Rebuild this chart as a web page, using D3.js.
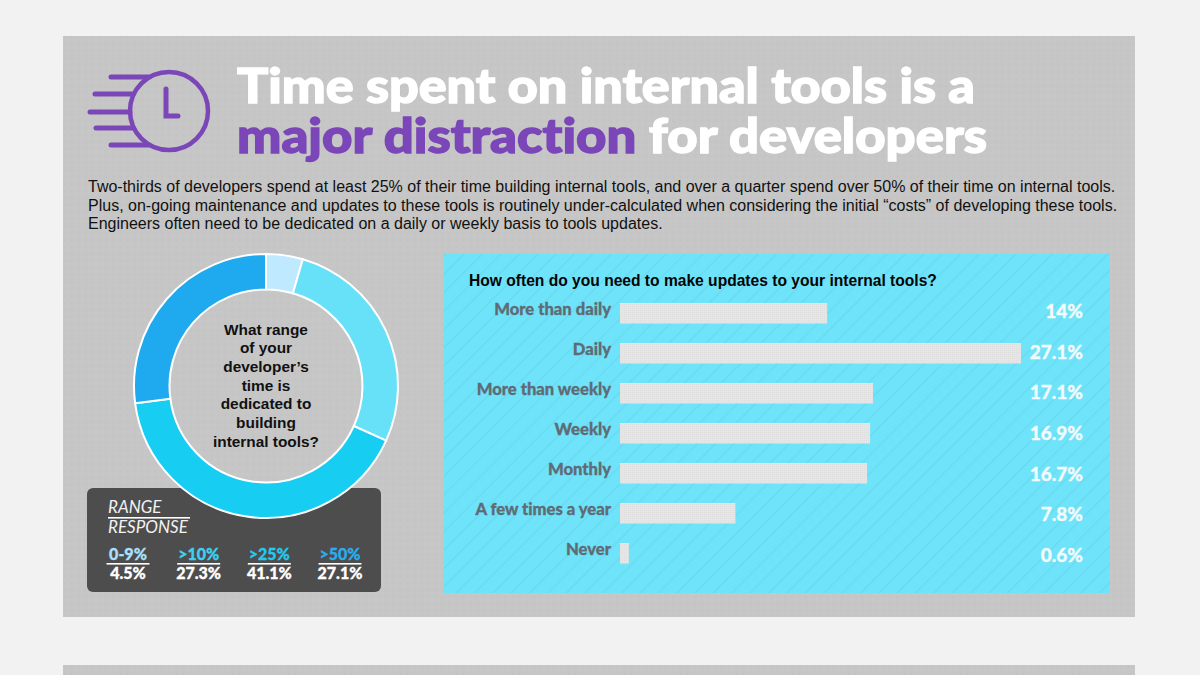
<!DOCTYPE html>
<html><head><meta charset="utf-8">
<script src="https://cdn.jsdelivr.net/npm/d3@7"></script>
<style>html,body{margin:0;padding:0;background:#f2f2f2;overflow:hidden}svg{display:block}text{font-variant-ligatures:none}</style>
</head><body><svg id="c" width="1200" height="675"></svg>
<script>
const titleLine1 = "Time spent on internal tools is a";
const titleLine2Accent = "major distraction";
const titleLine2Rest = " for developers";
const introLines = [
 "Two-thirds of developers spend at least 25% of their time building internal tools, and over a quarter spend over 50% of their time on internal tools.",
 "Plus, on-going maintenance and updates to these tools is routinely under-calculated when considering the initial “costs” of developing these tools.",
 "Engineers often need to be dedicated on a daily or weekly basis to tools updates."];
const donutQuestion = ["What range","of your","developer’s","time is","dedicated to","building","internal tools?"];
const rangeLabels = ["0-9%",">10%",">25%",">50%"];
const rangeValues = [4.5,27.3,41.1,27.1];
const rangeColors = ["#bfe9fe","#66e1f7","#17cdf2","#1fa9ef"];
const legendTextColors = ["#a9e0fb","#3fd0f2","#25c9ee","#28aeee"];
const barQuestion = "How often do you need to make updates to your internal tools?";
const barCategories = ["More than daily","Daily","More than weekly","Weekly","Monthly","A few times a year","Never"];
const barValues = [14,27.1,17.1,16.9,16.7,7.8,0.6];

const svg = d3.select("#c");
const defs = svg.append("defs");
const head = "Lato, sans-serif", body = "'Liberation Sans', Arial, sans-serif";
const purple = "#7b46b8";

const pg = defs.append("pattern").attr("id","mottle").attr("width",7).attr("height",7).attr("patternUnits","userSpaceOnUse");
pg.append("rect").attr("width",7).attr("height",7).attr("fill","#c6c6c6");
pg.append("circle").attr("cx",1.5).attr("cy",2).attr("r",1).attr("fill","#c2c2c2");
pg.append("circle").attr("cx",5).attr("cy",5).attr("r",1).attr("fill","#c9c9c9");
const ps = defs.append("pattern").attr("id","stripe").attr("width",13).attr("height",13).attr("patternUnits","userSpaceOnUse").attr("patternTransform","rotate(45)");
ps.append("rect").attr("width",13).attr("height",13).attr("fill","#6fe3f9");
ps.append("rect").attr("width",1.4).attr("height",13).attr("fill","#68dbf1");
const pb = defs.append("pattern").attr("id","grid").attr("width",2).attr("height",2).attr("patternUnits","userSpaceOnUse");
pb.append("rect").attr("width",2).attr("height",2).attr("fill","#e6e6e6");
pb.append("rect").attr("width",1).attr("height",1).attr("fill","#dedede");

svg.append("rect").attr("x",63).attr("y",36).attr("width",1072).attr("height",581).attr("fill","url(#mottle)");
svg.append("rect").attr("x",63).attr("y",665).attr("width",1072).attr("height",10).attr("fill","url(#mottle)");

// clock icon
const icon = svg.append("g").attr("transform","translate(169,111)").attr("fill","none").attr("stroke",purple).attr("stroke-linecap","round");
icon.append("circle").attr("r",39).attr("stroke-width",4.5);
icon.append("path").attr("d","M-3,-22V5H9").attr("stroke-width",5);
const iconRows = [[-34,-58,-20],[-17,-74,-36],[1,-79,-39],[17,-73,-36],[34,-58,-20]];
icon.selectAll("line").data(iconRows).join("line")
  .attr("x1",d=>d[1]).attr("x2",d=>d[2]).attr("y1",d=>d[0]).attr("y2",d=>d[0]).attr("stroke-width",5);

// title
svg.append("text").attr("x",237).attr("y",103).attr("font-family",head).attr("font-weight",900).attr("font-size",48)
  .attr("fill","#fff").attr("stroke","#fff").attr("stroke-width",1.4).attr("textLength",738).attr("lengthAdjust","spacingAndGlyphs").text(titleLine1);
const t2 = svg.append("text").attr("x",237).attr("y",153).attr("font-family",head).attr("font-weight",900).attr("font-size",48)
  .attr("stroke-width",1.4).attr("textLength",750).attr("lengthAdjust","spacingAndGlyphs").style("white-space","pre");
t2.append("tspan").attr("fill",purple).attr("stroke",purple).text(titleLine2Accent);
t2.append("tspan").attr("fill","#fff").attr("stroke","#fff").text(titleLine2Rest);

// intro
svg.append("g").selectAll("text").data(introLines).join("text")
  .attr("x",88).attr("y",(d,i)=>192+i*18.5).attr("font-family",body).attr("font-size",16).attr("fill","#111").text(d=>d);

// legend box (the donut sits over its top edge)
const leg = svg.append("g");
leg.append("rect").attr("x",87).attr("y",488).attr("width",294).attr("height",104).attr("rx",6).attr("fill","#4d4d4d");
leg.append("text").attr("x",108).attr("y",513).attr("font-family",head).attr("font-style","italic").attr("font-size",17).attr("fill","#f2f2f2").text("RANGE");
leg.append("rect").attr("x",108).attr("y",517).attr("width",82).attr("height",1.6).attr("fill","#fff");
leg.append("text").attr("x",108).attr("y",533).attr("font-family",head).attr("font-style","italic").attr("font-size",17).attr("fill","#f2f2f2").text("RESPONSE");
const legX = d3.scalePoint().domain(rangeLabels).range([128,340]);
rangeLabels.forEach((l,i)=>{
  const px = legX(l);
  leg.append("text").attr("x",px).attr("y",559.5).attr("text-anchor","middle").attr("font-family",head).attr("font-weight",900).attr("font-size",16).attr("fill",legendTextColors[i]).attr("stroke",legendTextColors[i]).attr("stroke-width",0.3).text(l);
  leg.append("rect").attr("x",px-21.5).attr("y",563).attr("width",43).attr("height",1.6).attr("fill","#fff");
  leg.append("text").attr("x",px).attr("y",578.5).attr("text-anchor","middle").attr("font-family",head).attr("font-weight",900).attr("font-size",16).attr("fill","#fff").attr("stroke","#fff").attr("stroke-width",0.3).text(rangeValues[i]+"%");
});

// donut
const donut = svg.append("g").attr("transform","translate(266,386)");
const pie = d3.pie().sort(null)(rangeValues);
const arc = d3.arc().innerRadius(96.5).outerRadius(132);
donut.selectAll("path").data(pie).join("path").attr("d",arc)
  .attr("fill",(d,i)=>rangeColors[i]).attr("stroke","#fff").attr("stroke-width",2);
donut.selectAll("text").data(donutQuestion).join("text").attr("text-anchor","middle")
  .attr("y",(d,i)=>-51.5+i*18.7).attr("font-family",body).attr("font-weight",700).attr("font-size",15.4).attr("fill","#111").text(d=>d);

// bar panel
svg.append("rect").attr("x",444).attr("y",254).attr("width",666).attr("height",339).attr("fill","url(#stripe)");
svg.append("text").attr("x",469).attr("y",286).attr("font-family",body).attr("font-weight",700).attr("font-size",15.6).attr("fill","#050505").text(barQuestion);
const x = d3.scaleLinear().domain([0,27.1]).range([620,1021]);
const y = d3.scaleBand().domain(barCategories).range([293.25,573.25]).paddingInner(0.4875).paddingOuter(0.24375);
const yValue = d3.scalePoint().domain(barCategories).range([318,562]);
svg.append("g").selectAll("rect").data(barValues).join("rect")
  .attr("x",x(0)).attr("y",(d,i)=>y(barCategories[i])).attr("width",d=>x(d)-x(0)).attr("height",y.bandwidth()).attr("fill","url(#grid)");
svg.append("g").selectAll("text").data(barCategories).join("text")
  .attr("x",611).attr("y",d=>y(d)+12).attr("text-anchor","end").attr("font-family",head).attr("font-weight",900).attr("font-size",16.6).attr("fill","#5f6b75").attr("stroke","#5f6b75").attr("stroke-width",0.3).text(d=>d);
svg.append("g").selectAll("text").data(barValues).join("text")
  .attr("x",1083).attr("y",(d,i)=>yValue(barCategories[i])).attr("text-anchor","end").attr("font-family",head).attr("font-weight",900).attr("font-size",19).attr("fill","#f2fbfd").attr("stroke","#f2fbfd").attr("stroke-width",0.3).text(d=>d+"%");
</script></body></html>
